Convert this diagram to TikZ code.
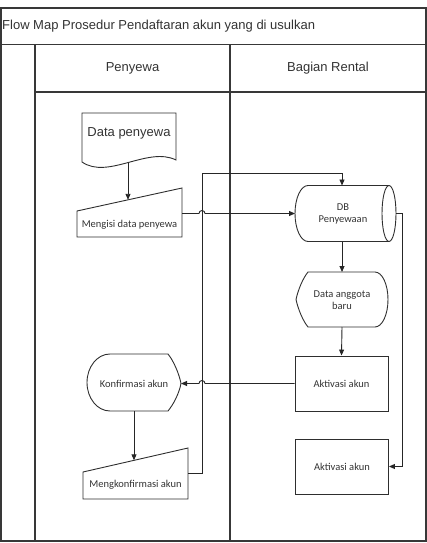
\documentclass[tikz,border=0pt]{standalone}
\usepackage{fontspec}
\setmainfont{Liberation Sans}
\newfontfamily\carlitofont{Carlito}
\usetikzlibrary{arrows.meta}
\begin{document}
\begin{tikzpicture}[x=1pt,y=-1pt,
  frame/.style={draw=black!78, line width=1.1pt},
  shp/.style={draw=black!82, line width=0.9pt},
  conn/.style={draw=black!85, line width=0.9pt},
  arr/.style={conn, -{Triangle[length=6pt,width=5pt]}},
  lbl/.style={font=\carlitofont\fontsize{10.5}{12.5}\selectfont, text=black!80, inner sep=0pt, align=center},
  hdr/.style={font=\fontsize{13}{15}\selectfont, text=black!80, inner sep=0pt},
  boxr/.style={shp, rectangle, minimum width=93pt, minimum height=55pt, inner sep=0pt, font=\carlitofont\fontsize{10.5}{12.5}\selectfont, text=black!80}]
\useasboundingbox (0,0) rectangle (427,543);
% frame and lanes
\draw[frame] (1,8) rectangle (426,541);
\draw[frame] (1,44.5) -- (426,44.5);
\draw[frame] (35,92) -- (426,92);
\draw[frame] (35,44.5) -- (35,541);
\draw[frame] (230,44.5) -- (230,541);
\node[hdr, anchor=west] (title) at (2,26) {Flow Map Prosedur Pendaftaran akun yang di usulkan};
\node[hdr] (h1) at (132.5,68.5) {Penyewa};
\node[hdr] (h2) at (328,68.5) {Bagian Rental};
% document
\draw[shp] (82,162) -- (82,113) -- (176,113) -- (176,160) .. controls (148,146) and (108,180) .. (82,162) -- cycle;
\node[hdr] (doc) at (129,133) {Data penyewa};
\coordinate (docb) at (128,162.5);
% manual input 1
\draw[shp] (77,211) -- (182,188) -- (182,237) -- (77,237) -- cycle;
\node[lbl] (mi1) at (129.5,225) {Mengisi data penyewa};
\coordinate (mi1t) at (128,199.8);
\coordinate (mi1e) at (182,213.5);
% cylinder
\draw[shp] (389,185.5) -- (308,185.5) arc[start angle=270, end angle=90, x radius=13, y radius=28] -- (389,241.5);
\draw[shp] (389,213.5) ellipse[x radius=7, y radius=28];
\node[lbl] (db) at (343,214) {DB\\Penyewaan};
\coordinate (dbl) at (295,213.5);
\coordinate (dbt) at (342,185.5);
\coordinate (dbb) at (342,241.5);
\coordinate (dbr) at (396,213.5);
% display data anggota baru
\draw[shp] (308,272) -- (375,272) arc[start angle=270, end angle=450, x radius=13, y radius=27.5] -- (308,327)
  .. controls (303,321) and (298,309) .. (296,299.5) .. controls (298,290) and (303,278) .. (308,272) -- cycle;
\node[lbl] (dab) at (342,300) {Data anggota\\baru};
\coordinate (dabt) at (342,272);
\coordinate (dabb) at (342,327);
% aktivasi 1
\node[boxr] (akt1) at (341.5,383.5) {Aktivasi akun};
% konfirmasi display (mirrored)
\draw[shp] (110,354) -- (168,354) .. controls (173,360) and (179,373) .. (181,383.5) .. controls (179,394) and (173,405) .. (168,411)
  -- (110,411) arc[start angle=90, end angle=270, x radius=23, y radius=28.5] -- cycle;
\node[lbl] (konf) at (134,383.5) {Konfirmasi akun};
\coordinate (konfe) at (181,383.5);
\coordinate (konfb) at (134,411);
% manual input 2
\draw[shp] (83,472) -- (188,448) -- (188,499) -- (83,499) -- cycle;
\node[lbl] (mi2) at (135.5,485) {Mengkonfirmasi akun};
\coordinate (mi2t) at (134,460.3);
\coordinate (mi2e) at (188,473);
% aktivasi 2
\node[boxr] (akt2) at (342,466.5) {Aktivasi akun};
% connectors
\draw[arr] (docb) -- (mi1t);
\draw[arr] (mi1e) -- (199,213.5) arc[start angle=180, end angle=360, radius=3] -- (dbl);
\draw[arr] (mi2e) -- (202,473) -- (202,173) -- (342,173) -- (dbt);
\draw[arr] (dbb) -- (dabt);
\draw[arr] (dabb) -- (akt1.north);
\draw[arr] (akt1.west) -- (205,383.5) arc[start angle=0, end angle=-180, radius=3] -- (konfe);
\draw[arr] (konfb) -- (mi2t);
\draw[arr] (dbr) -- (402,213.5) -- (402,466.5) -- (akt2.east);
\end{tikzpicture}
\end{document}
